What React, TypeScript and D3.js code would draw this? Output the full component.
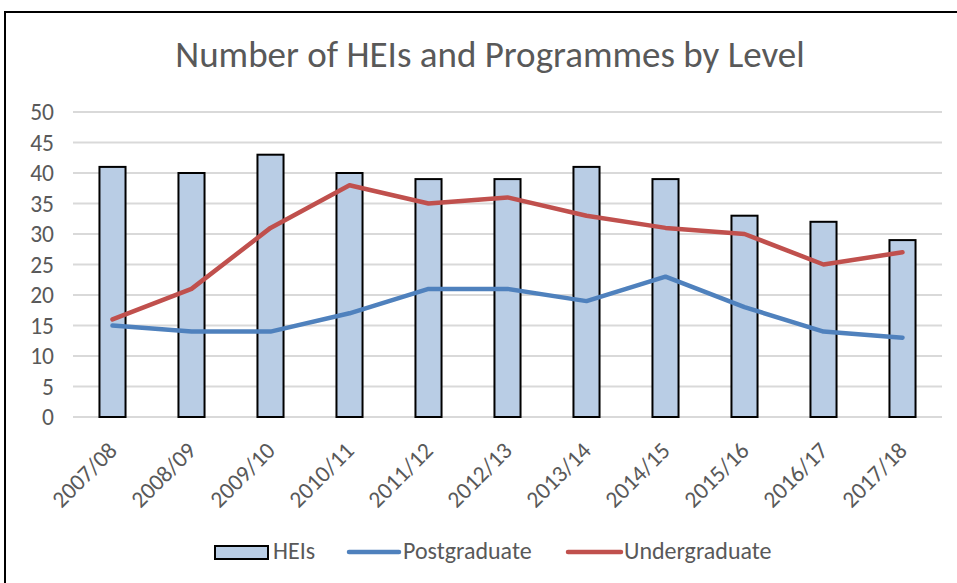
import React, { useEffect, useRef } from "react";
import * as d3 from "d3";

const years = ["2007/08", "2008/09", "2009/10", "2010/11", "2011/12", "2012/13", "2013/14", "2014/15", "2015/16", "2016/17", "2017/18"];
const heis = [41, 40, 43, 40, 39, 39, 41, 39, 33, 32, 29];
const postgraduate = [15, 14, 14, 17, 21, 21, 19, 23, 18, 14, 13];
const undergraduate = [16, 21, 31, 38, 35, 36, 33, 31, 30, 25, 27];
const yTicks = [0, 5, 10, 15, 20, 25, 30, 35, 40, 45, 50];

const FONT = "Carlito, Calibri, Lato, sans-serif";
const GREY = "#595959";
const BLUE = "#4F81BD";
const RED = "#C0504D";

const App = () => {
  const ref = useRef<SVGSVGElement>(null);

  useEffect(() => {
    const svg = d3.select(ref.current);
    svg.selectAll("*").remove();

    const width = 957;
    const height = 583;
    const margin = { top: 112, right: 15, bottom: 166, left: 73 };

    svg.append("rect")
      .attr("x", 5).attr("y", 12)
      .attr("width", 980).attr("height", 620)
      .attr("fill", "white").attr("stroke", "black").attr("stroke-width", 2);

    const x = d3.scaleBand()
      .domain(years)
      .range([margin.left, width - margin.right])
      .paddingInner(0.67)
      .paddingOuter(0.335);

    const y = d3.scaleLinear()
      .domain([0, 50])
      .range([height - margin.bottom, margin.top]);

    const cx = (i: number) => x(years[i])! + x.bandwidth() / 2;

    // gridlines
    svg.append("g")
      .selectAll("line")
      .data(yTicks)
      .join("line")
      .attr("x1", margin.left).attr("x2", width - margin.right)
      .attr("y1", d => y(d)).attr("y2", d => y(d))
      .attr("stroke", "#D9D9D9").attr("stroke-width", 2);

    // y labels
    svg.append("g")
      .selectAll("text")
      .data(yTicks)
      .join("text")
      .attr("x", 54).attr("y", d => y(d))
      .attr("dy", "0.35em")
      .attr("text-anchor", "end")
      .attr("font-family", FONT).attr("font-size", 23.5)
      .attr("fill", GREY)
      .text(d => d);

    // bars
    svg.append("g")
      .selectAll("rect")
      .data(heis)
      .join("rect")
      .attr("x", (d, i) => x(years[i])!)
      .attr("y", d => y(d))
      .attr("width", x.bandwidth())
      .attr("height", d => y(0) - y(d))
      .attr("fill", "#B9CDE5")
      .attr("stroke", "black").attr("stroke-width", 2);

    const line = d3.line<number>()
      .x((d, i) => cx(i))
      .y(d => y(d));

    svg.append("path")
      .datum(postgraduate)
      .attr("fill", "none").attr("stroke", BLUE)
      .attr("stroke-width", 4.5).attr("stroke-linecap", "round").attr("stroke-linejoin", "round")
      .attr("d", line);

    svg.append("path")
      .datum(undergraduate)
      .attr("fill", "none").attr("stroke", RED)
      .attr("stroke-width", 4.5).attr("stroke-linecap", "round").attr("stroke-linejoin", "round")
      .attr("d", line);

    // x labels
    svg.append("g")
      .selectAll("text")
      .data(years)
      .join("text")
      .attr("transform", d => `translate(${x(d)! + x.bandwidth() / 2 + 6},${y(0) + 35}) rotate(-45)`)
      .attr("text-anchor", "end")
      .attr("font-family", FONT).attr("font-size", 23.5)
      .attr("fill", GREY)
      .text(d => d);

    // title
    svg.append("text")
      .attr("x", 490).attr("y", 67)
      .attr("text-anchor", "middle")
      .attr("font-family", FONT).attr("font-size", 37)
      .attr("fill", GREY)
      .text("Number of HEIs and Programmes by Level");

    // legend
    const lg = svg.append("g").attr("font-family", FONT).attr("font-size", 24).attr("fill", GREY);
    lg.append("rect")
      .attr("x", 215).attr("y", 546).attr("width", 53).attr("height", 13)
      .attr("fill", "#B9CDE5").attr("stroke", "black").attr("stroke-width", 2);
    lg.append("text").attr("x", 273).attr("y", 559).text("HEIs");
    lg.append("line")
      .attr("x1", 349).attr("x2", 399).attr("y1", 552).attr("y2", 552)
      .attr("stroke", BLUE).attr("stroke-width", 4.5).attr("stroke-linecap", "round");
    lg.append("text").attr("x", 403).attr("y", 559).text("Postgraduate");
    lg.append("line")
      .attr("x1", 568).attr("x2", 621).attr("y1", 552).attr("y2", 552)
      .attr("stroke", RED).attr("stroke-width", 4.5).attr("stroke-linecap", "round");
    lg.append("text").attr("x", 624).attr("y", 559).text("Undergraduate");
  }, []);

  return (
    <svg
      ref={ref}
      width={957}
      height={583}
      style={{ position: "absolute", left: 0, top: 0, background: "white" }}
    ></svg>
  );
};

export default App;
